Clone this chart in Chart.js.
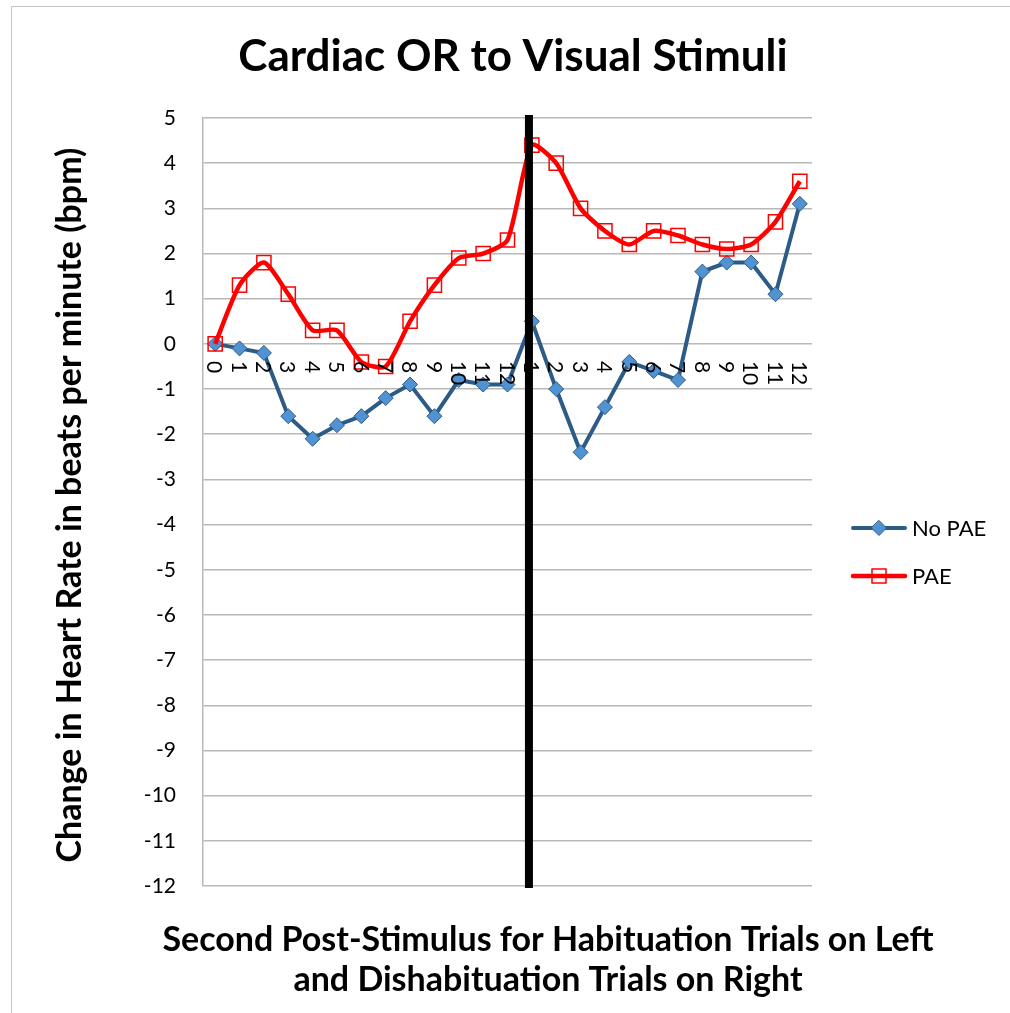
<!DOCTYPE html>
<html>
<head>
<meta charset="utf-8">
<script src="https://cdn.jsdelivr.net/npm/chart.js@4.4.1/dist/chart.umd.min.js"></script>
<style>
  html, body { margin: 0; padding: 0; background: #ffffff; }
  canvas { display: block; }
</style>
</head>
<body>
<canvas id="c" width="1010" height="1013"></canvas>
<script>
// ---- data ----
const categories = ['0','1','2','3','4','5','6','7','8','9','10','11','12',
                    '1','2','3','4','5','6','7','8','9','10','11','12'];
const noPAE = [0, -0.1, -0.2, -1.6, -2.1, -1.8, -1.6, -1.2, -0.9, -1.6, -0.8, -0.9, -0.9,
               0.5, -1.0, -2.4, -1.4, -0.4, -0.6, -0.8, 1.6, 1.8, 1.8, 1.1, 3.1];
const pae   = [0, 1.3, 1.8, 1.1, 0.3, 0.3, -0.4, -0.5, 0.5, 1.3, 1.9, 2.0, 2.3,
               4.4, 4.0, 3.0, 2.5, 2.2, 2.5, 2.4, 2.2, 2.1, 2.2, 2.7, 3.6];
const seriesNames = ['No PAE', 'PAE'];
const chartTitle = 'Cardiac OR to Visual Stimuli';
const yTitle = 'Change in Heart Rate in beats per minute (bpm)';
const xTitleLines = ['Second Post-Stimulus for Habituation Trials on Left',
                     'and Dishabituation Trials on Right'];
const yMin = -12, yMax = 5;
const dividerAt = 12.88; // category position of the black divider line

const FONT = 'Lato, "Open Sans", sans-serif';
const BLUE_LINE = '#2b5b86';
const BLUE_FILL = '#5092d2';
const RED = '#ff0000';
const GRID = '#b8b8b8';

const overlay = {
  id: 'overlay',
  afterDatasetsDraw(chart) {
    const ctx = chart.ctx;
    const x = chart.scales.x, y = chart.scales.y;
    ctx.save();
    const dx = x.getPixelForValue(dividerAt);
    ctx.strokeStyle = '#000000';
    ctx.lineWidth = 8;
    ctx.beginPath();
    ctx.moveTo(dx, y.getPixelForValue(yMax) - 3);
    ctx.lineTo(dx, y.getPixelForValue(yMin) + 2);
    ctx.stroke();
    ctx.restore();
  },
  afterDraw(chart) {
    const ctx = chart.ctx;
    const x = chart.scales.x, y = chart.scales.y;
    ctx.save();
    // outer frame (top & left visible)
    ctx.strokeStyle = '#c4c4c4';
    ctx.lineWidth = 1;
    ctx.beginPath();
    ctx.moveTo(11.5, 1013);
    ctx.lineTo(11.5, 6.5);
    ctx.lineTo(1010, 6.5);
    ctx.stroke();

    // category labels, rotated clockwise, just below the zero line
    const y0 = y.getPixelForValue(0);
    ctx.fillStyle = '#000000';
    ctx.font = '21px ' + FONT;
    ctx.textAlign = 'left';
    ctx.textBaseline = 'middle';
    categories.forEach((lab, i) => {
      const px = x.getPixelForValue(i);
      ctx.save();
      ctx.translate(px - 1, y0 + 17);
      ctx.rotate(Math.PI / 2);
      ctx.fillText(lab, 0, 0);
      ctx.restore();
    });

    // title
    ctx.font = 'bold 44px ' + FONT;
    ctx.textAlign = 'center';
    ctx.textBaseline = 'middle';
    ctx.fillText(chartTitle, 513, 57);

    // y axis title
    ctx.save();
    ctx.translate(70, 505);
    ctx.rotate(-Math.PI / 2);
    ctx.font = 'bold 34px ' + FONT;
    ctx.fillText(yTitle, 0, 0);
    ctx.restore();

    // x axis title
    ctx.font = 'bold 34px ' + FONT;
    ctx.fillText(xTitleLines[0], 548, 940);
    ctx.fillText(xTitleLines[1], 548, 980);

    // legend
    const items = [
      {name: seriesNames[0], y: 528, color: BLUE_LINE, lw: 4, marker: 'diamond'},
      {name: seriesNames[1], y: 576, color: RED, lw: 4.5, marker: 'square'}
    ];
    items.forEach(it => {
      ctx.strokeStyle = it.color;
      ctx.lineWidth = it.lw;
      ctx.lineCap = 'round';
      ctx.beginPath();
      ctx.moveTo(853, it.y);
      ctx.lineTo(905, it.y);
      ctx.stroke();
      const mx = 879;
      if (it.marker === 'diamond') {
        ctx.fillStyle = BLUE_FILL;
        ctx.strokeStyle = BLUE_LINE;
        ctx.lineWidth = 1;
        ctx.beginPath();
        ctx.moveTo(mx, it.y - 7.5);
        ctx.lineTo(mx + 7.5, it.y);
        ctx.lineTo(mx, it.y + 7.5);
        ctx.lineTo(mx - 7.5, it.y);
        ctx.closePath();
        ctx.fill();
        ctx.stroke();
      } else {
        ctx.strokeStyle = RED;
        ctx.lineWidth = 1.5;
        ctx.strokeRect(mx - 7, it.y - 7, 14, 14);
      }
      ctx.fillStyle = '#000000';
      ctx.font = '22px ' + FONT;
      ctx.textAlign = 'left';
      ctx.textBaseline = 'middle';
      ctx.fillText(it.name, 912, it.y + 1);
    });
    ctx.restore();
  }
};

new Chart(document.getElementById('c'), {
  type: 'line',
  data: {
    labels: categories,
    datasets: [
      {
        label: seriesNames[0],
        data: noPAE,
        borderColor: BLUE_LINE,
        borderWidth: 4,
        tension: 0,
        pointStyle: 'rectRot',
        pointRadius: 7.5,
        pointBackgroundColor: BLUE_FILL,
        pointBorderColor: BLUE_LINE,
        pointBorderWidth: 1,
        order: 2
      },
      {
        label: seriesNames[1],
        data: pae,
        borderColor: RED,
        borderWidth: 4.5,
        tension: 0.22,
        pointStyle: 'rect',
        pointRadius: 10,
        pointBackgroundColor: 'rgba(0,0,0,0)',
        pointBorderColor: RED,
        pointBorderWidth: 1.5,
        order: 1
      }
    ]
  },
  options: {
    responsive: false,
    animation: false,
    devicePixelRatio: 1,
    layout: { padding: { left: 0, right: 198, top: 118, bottom: 127 } },
    plugins: { legend: { display: false }, title: { display: false }, tooltip: { enabled: false } },
    scales: {
      x: {
        type: 'category',
        offset: true,
        grid: { display: false, drawTicks: false },
        border: { display: false },
        ticks: { display: false }
      },
      y: {
        min: yMin,
        max: yMax,
        afterFit(scale) { scale.width = 203; },
        ticks: {
          stepSize: 1,
          padding: 27,
          color: '#000000',
          font: { family: FONT, size: 21 }
        },
        grid: { color: GRID, lineWidth: 1.5, drawTicks: false },
        border: { display: true, color: GRID, width: 1.5 }
      }
    }
  },
  plugins: [overlay]
});
</script>
</body>
</html>
